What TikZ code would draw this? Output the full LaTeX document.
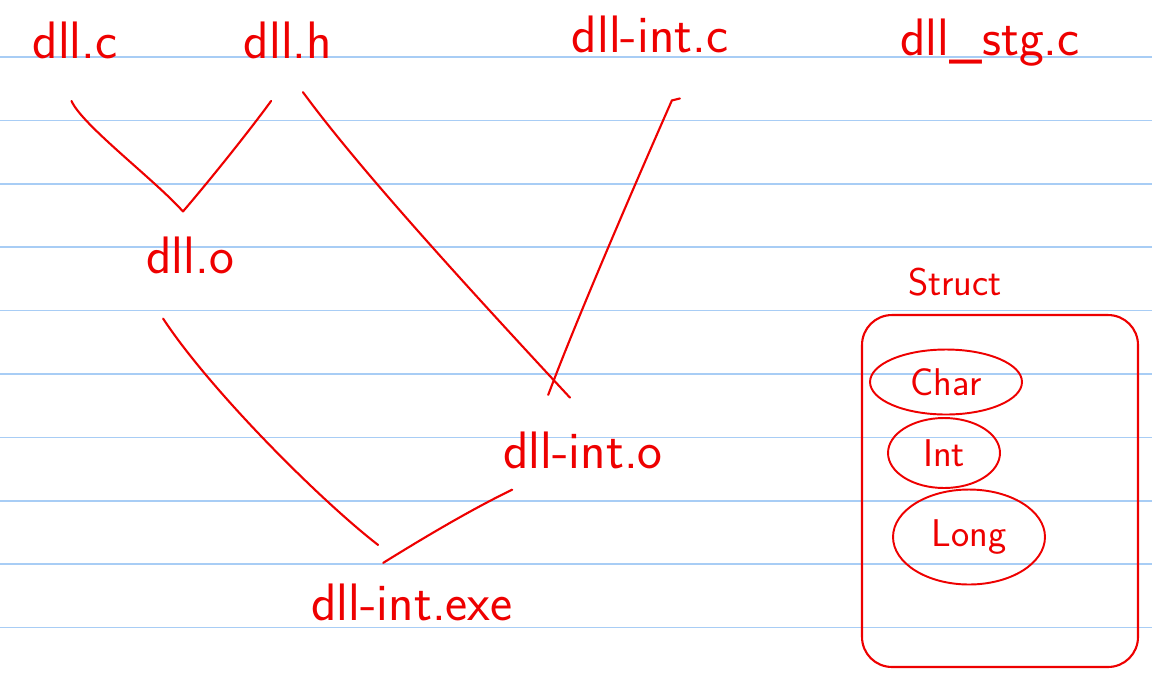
\documentclass[tikz,border=0pt]{standalone}
\usepackage{tikz}
\usetikzlibrary{arrows.meta,positioning,shapes.geometric}
\definecolor{ink}{RGB}{238,0,0}
\definecolor{ruleblue}{RGB}{168,205,245}

\begin{document}
\begin{tikzpicture}[x=0.02cm,y=-0.02cm,
    file/.style={ink,anchor=base,inner sep=2pt,font=\sffamily\fontsize{30}{34}\selectfont},
    member/.style={draw=ink,ellipse,ink,line width=1.1pt,inner sep=0pt,font=\sffamily\fontsize{22}{26}\selectfont},
    link/.style={ink,line width=1.2pt,line cap=round}]
  \useasboundingbox (0,0) rectangle (1152,677);
  \fill[white] (0,0) rectangle (1152,677);
  % ruled paper
  \foreach \k in {0,...,9}
    \draw[ruleblue,line width=1pt] (0,{57+63.4*\k}) -- (1152,{57+63.4*\k});

  % sources
  \node[file] (dllc) at (75,58) {dll.c};
  \node[file] (dllh) at (288,58) {dll.h};
  \node[file] (dllintc) at (650,52) {dll-int.c};
  \node[file] (dllstgc) at (990,55) {dll\_stg.c};
  % objects
  \node[file] (dllo) at (190,273) {dll.o};
  \node[file] (dllinto) at (583,468) {dll-int.o};
  \node[file] (dllintexe) at (412,620) {dll-int.exe};

  % struct
  \node[file,font=\sffamily\fontsize{22}{26}\selectfont] (struct) at (955,295) {Struct};
  \node[draw=ink,line width=1.2pt,rounded corners=17pt,minimum width=5.52cm,minimum height=7.04cm] (structbox) at (1000,491) {};
  \node[member,minimum width=3.04cm,minimum height=1.3cm] (char) at (946,382) {Char};
  \node[member,minimum width=2.24cm,minimum height=1.4cm] (int) at (944,453) {Int};
  \node[member,minimum width=3.04cm,minimum height=1.9cm] (long) at (969,537) {Long};

  % build steps
  \draw[link] ([xshift=-2pt,yshift=-22pt]dllc.south) .. controls (82,125) and (155,180) .. ([xshift=-4pt,yshift=12pt]dllo.north);
  \draw[link] ([xshift=-9.6pt,yshift=-22pt]dllh.south) .. controls (250,130) and (210,180) .. ([xshift=-4pt,yshift=12pt]dllo.north);
  \draw[link] ([xshift=8.5pt,yshift=-17pt]dllh.south) .. controls (360,170) and (470,290) .. ([xshift=-7.4pt,yshift=17pt]dllinto.north);
  \draw[link] ([xshift=17pt,yshift=-24pt]dllintc.south) -- ++(-8,2) .. controls (650,150) and (580,310) .. ([xshift=-19.8pt,yshift=18.6pt]dllinto.north);
  \draw[link] ([xshift=-15.3pt,yshift=-23.5pt]dllo.south) .. controls (210,390) and (320,500) .. ([xshift=-19.3pt,yshift=19.7pt]dllintexe.north);
  \draw[link] ([xshift=-40.3pt,yshift=-9.9pt]dllinto.south) .. controls (470,510) and (420,540) .. ([xshift=-16.4pt,yshift=9.5pt]dllintexe.north);
\end{tikzpicture}
\end{document}
